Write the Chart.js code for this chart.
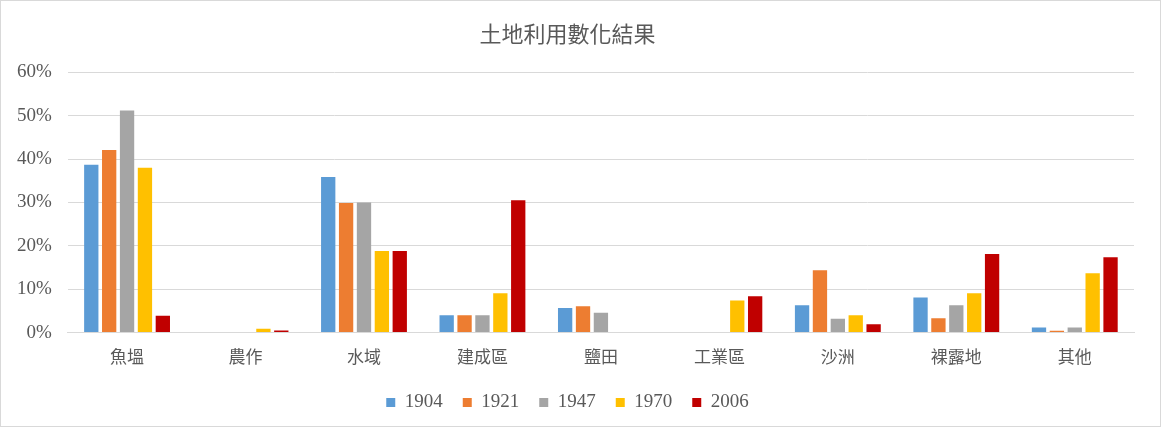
<!DOCTYPE html>
<html>
<head>
<meta charset="utf-8">
<script src="https://cdn.jsdelivr.net/npm/chart.js@4/dist/chart.umd.min.js"></script>
<style>
  html, body { margin: 0; padding: 0; background: #fff; }
  #wrap { width: 1161px; height: 427px; box-sizing: border-box; border: 1px solid #d9d9d9; }
</style>
</head>
<body>
<div id="wrap"><canvas id="c" width="1159" height="425"></canvas></div>
<script>
// 土地利用數化結果 — 各類別比例 (%)
const categories = ['魚塭', '農作', '水域', '建成區', '鹽田', '工業區', '沙洲', '裸露地', '其他'];
const years = ['1904', '1921', '1947', '1970', '2006'];

const v1904 = [38.7, 0, 35.9, 4.0, 5.7, 0, 6.3, 8.1, 1.2];
const v1921 = [42.1, 0, 29.9, 4.0, 6.1, 0, 14.4, 3.3, 0.4];
const v1947 = [51.2, 0, 30.0, 4.0, 4.6, 0, 3.2, 6.3, 1.2];
const v1970 = [38.0, 0.9, 18.8, 9.1, 0, 7.4, 4.0, 9.1, 13.7];
const v2006 = [3.9, 0.5, 18.8, 30.5, 0, 8.4, 1.9, 18.1, 17.4];

const yTicks = [0, 10, 20, 30, 40, 50, 60];

const colors = ['#5B9BD5', '#ED7D31', '#A5A5A5', '#FFC000', '#C00000'];
const textColor = '#595959';
const gridColor = '#d9d9d9';
const serif = "'Liberation Serif', 'Times New Roman', 'Noto Sans CJK TC', serif";

const series = [v1904, v1921, v1947, v1970, v2006];

new Chart(document.getElementById('c'), {
  type: 'bar',
  data: {
    labels: categories,
    datasets: series.map((data, i) => ({
      label: years[i],
      data,
      backgroundColor: colors[i],
      categoryPercentage: 0.755,
      barPercentage: 0.8
    }))
  },
  options: {
    responsive: false,
    animation: false,
    layout: { padding: { left: 0, right: 26, top: 8, bottom: 4 } },
    plugins: {
      title: {
        display: true,
        text: '土地利用數化結果',
        color: textColor,
        font: { family: serif, size: 22, weight: 'normal' },
        padding: { top: 14, bottom: 23 }
      },
      legend: {
        position: 'bottom',
        labels: {
          color: textColor,
          font: { family: serif, size: 19 },
          boxWidth: 9,
          boxHeight: 9,
          padding: 20
        }
      },
      tooltip: { enabled: false }
    },
    scales: {
      x: {
        grid: { display: false },
        border: { color: gridColor },
        ticks: {
          color: textColor,
          font: { family: "'Noto Sans CJK TC', serif", size: 17 },
          padding: 6
        }
      },
      y: {
        min: 0,
        max: 60,
        afterBuildTicks: axis => { axis.ticks = yTicks.map(value => ({ value })); },
        grid: { color: gridColor, drawTicks: false },
        border: { display: false },
        ticks: {
          color: textColor,
          font: { family: serif, size: 19 },
          padding: 16,
          callback: v => v + '%'
        }
      }
    }
  }
});
</script>
</body>
</html>
